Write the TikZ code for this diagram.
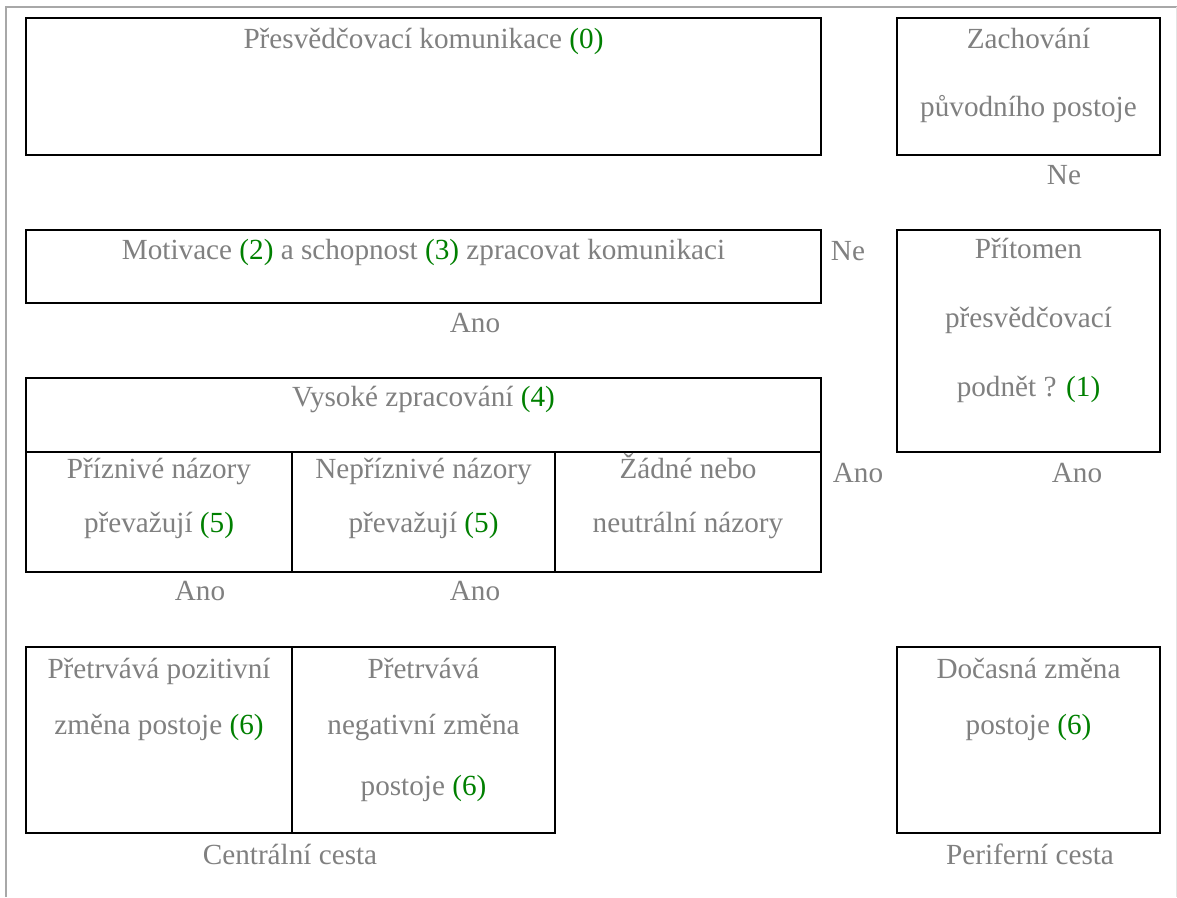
\documentclass[tikz,border=0pt]{standalone}
\usepackage{fontspec}
\setmainfont{Liberation Serif}
\definecolor{txtgray}{HTML}{808080}
\definecolor{numgreen}{HTML}{008000}
\definecolor{framegray}{HTML}{A8A8A8}
\definecolor{framelight}{HTML}{E4E4E4}
\newcommand\gn[1]{\textcolor{numgreen}{#1}}
\begin{document}
\begin{tikzpicture}[x=1pt,y=-1pt,
  box/.style={draw=black, line width=2pt, inner sep=0pt, outer sep=0pt},
  txt/.style={text=txtgray, font=\fontsize{29.2}{35}\selectfont, inner sep=0pt, anchor=base}]
\useasboundingbox (0,0) rectangle (1177,897);
\fill[white] (0,0) rectangle (1177,897);
% frame
\coordinate (fTL) at (6,7);
\coordinate (fTR) at (1177,7);
\coordinate (fBL) at (6,897);
\draw[framegray, line width=2pt] (fBL) -- (fTL) -- (fTR);
\draw[framelight, line width=1pt] (1176,7) -- (1176,897);
% boxes
\node[box, minimum width=795pt, minimum height=137pt] (b0) at (423.5,86.5) {};
\node[box, minimum width=263pt, minimum height=137pt] (bZ) at (1028.5,86.5) {};
\node[box, minimum width=795pt, minimum height=73pt] (bM) at (423.5,266.5) {};
\node[box, minimum width=263pt, minimum height=222pt] (bP) at (1028.5,341) {};
\node[box, minimum width=795pt, minimum height=74pt] (bV) at (423.5,415) {};
\node[box, minimum width=266pt, minimum height=120pt] (c1) at (159,512) {};
\node[box, minimum width=263pt, minimum height=120pt] (c2) at (423.5,512) {};
\node[box, minimum width=266pt, minimum height=120pt] (c3) at (688,512) {};
\node[box, minimum width=266pt, minimum height=186pt] (d1) at (159,740) {};
\node[box, minimum width=263pt, minimum height=186pt] (d2) at (423.5,740) {};
\node[box, minimum width=263pt, minimum height=186pt] (d3) at (1028.5,740) {};
% texts
\node[txt] (t0) at (423.5,48) {Přesvědčovací komunikace \gn{(0)}};
\node[txt] (tZ1) at (1028.5,48) {Zachování};
\node[txt] (tZ2) at (1028.5,116) {původního postoje};
\node[txt] (ne1) at (1064,184) {Ne};
\node[txt] (tM) at (423.5,259) {Motivace \gn{(2)} a schopnost \gn{(3)} zpracovat komunikaci};
\node[txt] (ne2) at (848,260) {Ne};
\node[txt] (tP1) at (1028.5,258) {Přítomen};
\node[txt] (tP2) at (1028.5,327) {přesvědčovací};
\node[txt] (tP3) at (1028.5,396) {podnět ? \gn{(1)}};
\node[txt] (ano1) at (475,332) {Ano};
\node[txt] (tV) at (423.5,406) {Vysoké zpracování \gn{(4)}};
\node[txt] (tc11) at (159,478) {Příznivé názory};
\node[txt] (tc12) at (159,532) {převažují \gn{(5)}};
\node[txt] (tc21) at (423.5,478) {Nepříznivé názory};
\node[txt] (tc22) at (423.5,532) {převažují \gn{(5)}};
\node[txt] (tc31) at (688,478) {Žádné nebo};
\node[txt] (tc32) at (688,532) {neutrální názory};
\node[txt] (ano2) at (858,482) {Ano};
\node[txt] (ano3) at (1077,482) {Ano};
\node[txt] (ano4) at (200,600) {Ano};
\node[txt] (ano5) at (475,600) {Ano};
\node[txt] (td11) at (159,678) {Přetrvává pozitivní};
\node[txt] (td12) at (159,734) {změna postoje \gn{(6)}};
\node[txt] (td21) at (423.5,678) {Přetrvává};
\node[txt] (td22) at (423.5,734) {negativní změna};
\node[txt] (td23) at (423.5,795) {postoje \gn{(6)}};
\node[txt] (td31) at (1028.5,678) {Dočasná změna};
\node[txt] (td32) at (1028.5,734) {postoje \gn{(6)}};
\node[txt] (cc) at (290,864) {Centrální cesta};
\node[txt] (pc) at (1030,864) {Periferní cesta};
\end{tikzpicture}
\end{document}
